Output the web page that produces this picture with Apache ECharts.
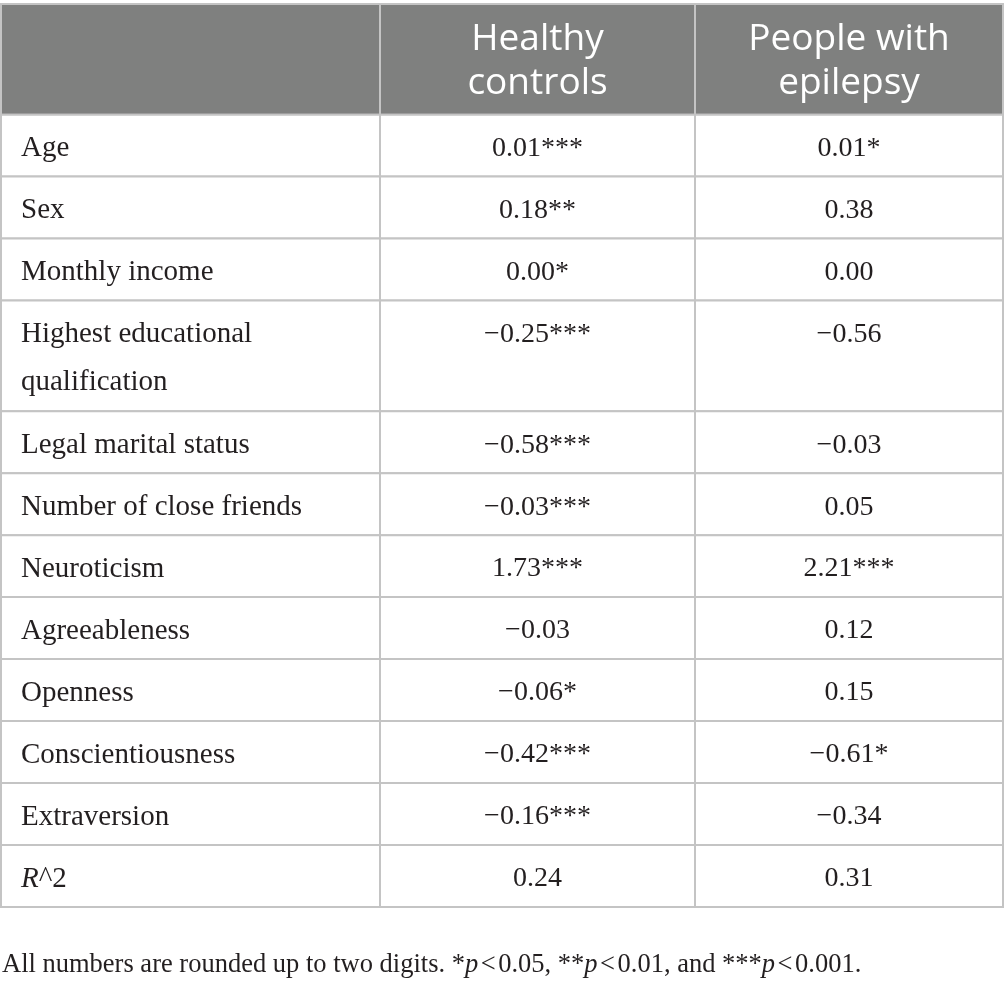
<!DOCTYPE html>
<html>
<head>
<meta charset="utf-8">
<script src="https://cdn.jsdelivr.net/npm/echarts@6/dist/echarts.min.js"></script>
<style>
  html, body { margin: 0; padding: 0; background: #fff; }
  #chart { width: 1005px; height: 987px; }
</style>
</head>
<body>
<div id="chart"></div>
<script>
// table content
const columnHeaders = ['', 'Healthy\ncontrols', 'People with\nepilepsy'];
const predictors = [
  'Age', 'Sex', 'Monthly income', 'Highest educational\nqualification',
  'Legal marital status', 'Number of close friends', 'Neuroticism',
  'Agreeableness', 'Openness', 'Conscientiousness', 'Extraversion', 'R^2',
];
const healthyCoef = [0.01, 0.18, 0.00, -0.25, -0.58, -0.03, 1.73, -0.03, -0.06, -0.42, -0.16, 0.24];
const healthyStars = [3, 2, 1, 3, 3, 3, 3, 0, 1, 3, 3, 0];
const epilepsyCoef = [0.01, 0.38, 0.00, -0.56, -0.03, 0.05, 2.21, 0.12, 0.15, -0.61, -0.34, 0.31];
const epilepsyStars = [1, 0, 0, 0, 0, 0, 3, 0, 0, 1, 0, 0];
const footnote = 'All numbers are rounded up to two digits. *{i|p}{lt|<}0.05, **{i|p}{lt|<}0.01, and ***{i|p}{lt|<}0.001.';

// layout
const COL_WEIGHTS = [379, 315, 308];
const EXTRA_LINE = 0.785;
const SERIF = '"Liberation Serif", "Times New Roman", serif';
const SANS = '"Open Sans", "Noto Sans", sans-serif';
const INK = '#231f20';
const HEADER_FILL = '#7f807f';
const RULE = '#c4c4c4';

function formatCoef(value, stars) {
  const sign = value < 0 ? '\u2212' : '';
  return sign + Math.abs(value).toFixed(2) + '*'.repeat(stars);
}

function markupLabel(label) {
  return label.replace(/^R\^/, '{i|R}^');
}

const rows = [{ header: true, cells: columnHeaders }].concat(
  predictors.map((label, i) => ({
    header: false,
    cells: [
      markupLabel(label),
      formatCoef(healthyCoef[i], healthyStars[i]),
      formatCoef(epilepsyCoef[i], epilepsyStars[i]),
    ],
  }))
);

const colEdges = [0];
COL_WEIGHTS.forEach((w) => colEdges.push(colEdges[colEdges.length - 1] + w));

const cells = [];
let yCursor = 0;
rows.forEach((row) => {
  const lines = Math.max(...row.cells.map((t) => t.split('\n').length));
  const span = 1 + (lines - 1) * EXTRA_LINE;
  row.cells.forEach((text, c) => {
    cells.push({
      value: [colEdges[c], colEdges[c + 1], yCursor, yCursor + span],
      text: text,
      header: row.header,
      col: c,
    });
  });
  yCursor += span;
});

function renderCell(params, api) {
  const cell = cells[params.dataIndex];
  const p0 = api.coord([api.value(0), api.value(2)]);
  const p1 = api.coord([api.value(1), api.value(3)]);
  const x = p0[0];
  const y = p0[1];
  const w = p1[0] - p0[0];
  const h = p1[1] - p0[1];
  const children = [{
    type: 'rect',
    shape: { x: x, y: y, width: w, height: h },
    style: { fill: cell.header ? HEADER_FILL : '#fff', stroke: RULE, lineWidth: 2 },
  }];
  if (cell.text) {
    if (cell.header) {
      children.push({
        type: 'text',
        style: {
          text: cell.text,
          x: x + w / 2,
          y: y + h / 2 + 2,
          fill: '#fff',
          fontFamily: SANS,
          fontSize: 37,
          lineHeight: 44,
          align: 'center',
          verticalAlign: 'middle',
          textAlign: 'center',
          textVerticalAlign: 'middle',
        },
      });
    } else {
      const left = cell.col === 0;
      const size = left ? 29 : 28;
      children.push({
        type: 'text',
        style: {
          text: cell.text,
          x: left ? x + 20 : x + w / 2,
          y: y + 10,
          fill: INK,
          fontFamily: SERIF,
          fontSize: size,
          lineHeight: 48,
          align: left ? 'left' : 'center',
          verticalAlign: 'top',
          textAlign: left ? 'left' : 'center',
          textVerticalAlign: 'top',
          rich: {
            i: { fontFamily: SERIF, fontSize: size, fontStyle: 'italic', fill: INK, color: INK, lineHeight: 48 },
          },
        },
      });
    }
  }
  return { type: 'group', children: children };
}

const chart = echarts.init(document.getElementById('chart'), null, { renderer: 'canvas' });
chart.setOption({
  animation: false,
  backgroundColor: '#fff',
  title: {
    text: footnote,
    left: 2,
    top: 952,
    padding: 0,
    textStyle: {
      fontFamily: SERIF,
      fontSize: 26.5,
      fontWeight: 'normal',
      color: INK,
      rich: {
        i: { fontFamily: SERIF, fontSize: 26.5, fontStyle: 'italic', color: INK },
        lt: { fontFamily: SERIF, fontSize: 26.5, color: INK, width: 20, align: 'center' },
      },
    },
  },
  grid: { left: 1, top: 4, width: 1002, height: 903, containLabel: false },
  xAxis: { type: 'value', min: 0, max: colEdges[colEdges.length - 1], show: false },
  yAxis: { type: 'value', min: 0, max: yCursor, inverse: true, show: false },
  series: [{
    type: 'custom',
    clip: false,
    silent: true,
    encode: { x: [0, 1], y: [2, 3] },
    renderItem: renderCell,
    data: cells.map((c) => c.value),
  }],
});
window.addEventListener('resize', () => chart.resize());
</script>
</body>
</html>
